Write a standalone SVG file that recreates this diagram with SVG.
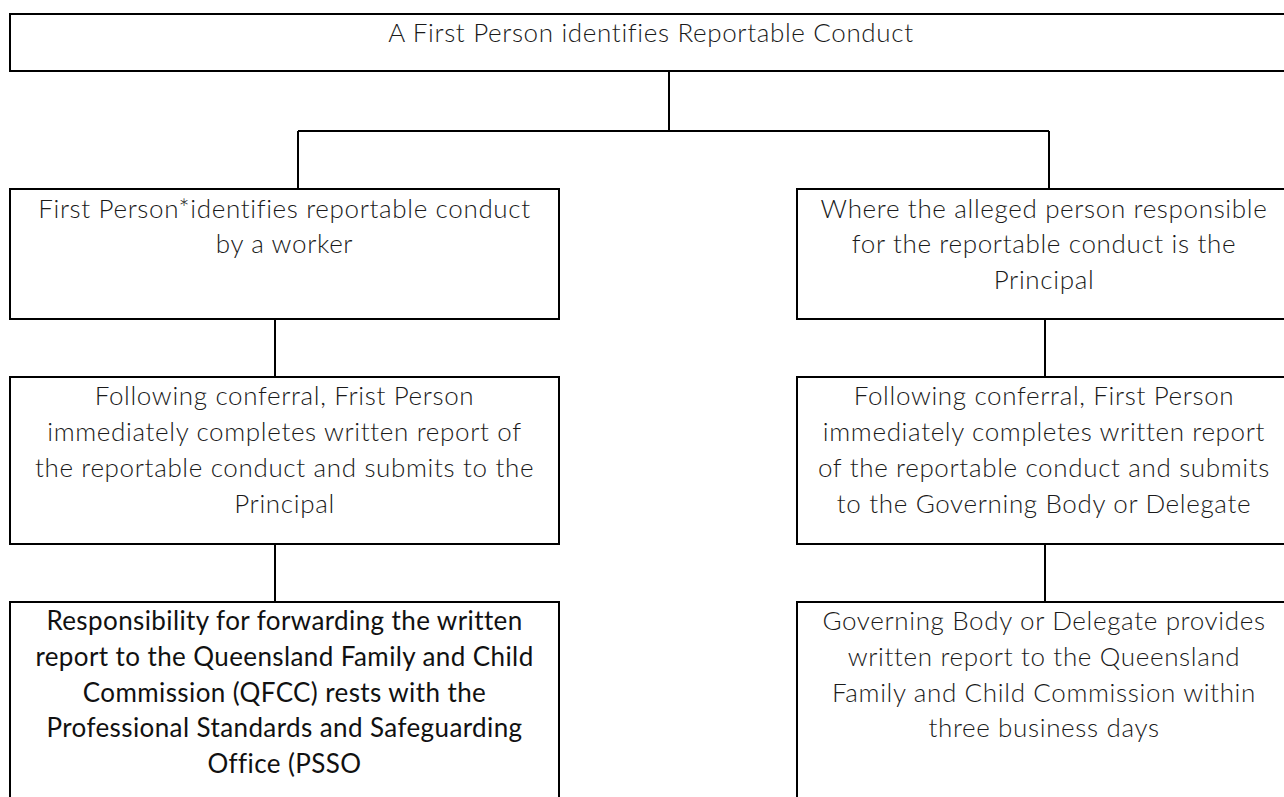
<svg xmlns="http://www.w3.org/2000/svg" width="1284" height="797" viewBox="0 0 1284 797">
<style>
.box{fill:#fff;stroke:#000;stroke-width:2}
.con{fill:none;stroke:#000;stroke-width:2}
text{font-family:Lato,"Open Sans","Liberation Sans",sans-serif;font-size:26px;letter-spacing:0.65px;fill:#1a1a1a;text-anchor:middle;font-weight:300}
.reg{font-weight:400;letter-spacing:0.4px;fill:#111}
</style>
<rect width="1284" height="797" fill="#fff"/>
<g id="connectors">
<path class="con" d="M669 71V131M298 131H1049M298 131V189M1049 131V189"/>
<path class="con" d="M275 319V377M275 544V602"/>
<path class="con" d="M1045 319V377M1045 544V602"/>
</g>
<g id="n0"><rect class="box" x="10" y="14" width="1282" height="57"/>
<text x="651" y="42">A First Person identifies Reportable Conduct</text></g>
<g id="n1"><rect class="box" x="10" y="189" width="549" height="130"/>
<text x="284.5" y="218">First Person*identifies reportable conduct</text>
<text x="284.5" y="253">by a worker</text></g>
<g id="n2"><rect class="box" x="797" y="189" width="494" height="130"/>
<text x="1044" y="218">Where the alleged person responsible</text>
<text x="1044" y="253">for the reportable conduct is the</text>
<text x="1044" y="289">Principal</text></g>
<g id="n3"><rect class="box" x="10" y="377" width="549" height="167"/>
<text x="284.5" y="405">Following conferral, Frist Person</text>
<text x="284.5" y="441">immediately completes written report of</text>
<text x="284.5" y="477">the reportable conduct and submits to the</text>
<text x="284.5" y="513">Principal</text></g>
<g id="n4"><rect class="box" x="797" y="377" width="494" height="167"/>
<text x="1044" y="405">Following conferral, First Person</text>
<text x="1044" y="441">immediately completes written report</text>
<text x="1044" y="477">of the reportable conduct and submits</text>
<text x="1044" y="513">to the Governing Body or Delegate</text></g>
<g id="n5"><rect class="box" x="10" y="602" width="549" height="220"/>
<text class="reg" x="284.5" y="630">Responsibility for forwarding the written</text>
<text class="reg" x="284.5" y="666">report to the Queensland Family and Child</text>
<text class="reg" x="284.5" y="702">Commission (QFCC) rests with the</text>
<text class="reg" x="284.5" y="737">Professional Standards and Safeguarding</text>
<text class="reg" x="284.5" y="773">Office (PSSO</text></g>
<g id="n6"><rect class="box" x="797" y="602" width="494" height="220"/>
<text x="1044" y="630">Governing Body or Delegate provides</text>
<text x="1044" y="666">written report to the Queensland</text>
<text x="1044" y="702">Family and Child Commission within</text>
<text x="1044" y="737">three business days</text></g>
</svg>
